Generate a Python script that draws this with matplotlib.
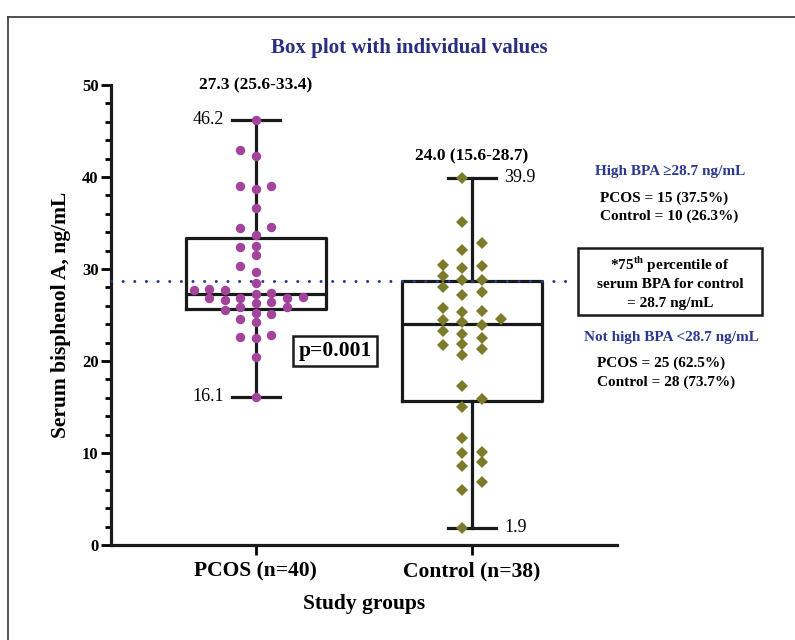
import numpy as np
import matplotlib
matplotlib.use("Agg")
import matplotlib.pyplot as plt
from matplotlib.lines import Line2D

plt.rcParams['font.family'] = ['Liberation Serif', 'DejaVu Serif']
plt.rcParams['mathtext.fontset'] = 'custom'
plt.rcParams['mathtext.rm'] = 'Liberation Serif'
plt.rcParams['mathtext.bf'] = 'Liberation Serif:bold'

# ---------------- data ----------------
groups = ["PCOS (n=40)", "Control (n=38)"]
pcos_values = [46.2, 42.3, 42.9, 38.7, 39.0, 39.0, 36.6, 34.6, 33.7, 34.5,
               32.4, 31.5, 32.5, 29.7, 30.3, 28.5, 27.8, 26.9, 27.0, 25.9,
               27.4, 26.4, 27.7, 26.6, 25.5, 27.3, 26.3, 26.9, 25.9, 27.7,
               26.8, 25.1, 24.2, 24.6, 25.2, 22.6, 22.5, 22.8, 20.4, 16.1]
control_values = [39.9, 35.1, 32.8, 32.1, 30.4, 30.3, 30.1, 29.2, 28.8, 28.8,
                  28.0, 27.2, 27.5, 25.8, 25.3, 25.4, 24.6, 24.5, 23.9, 24.2,
                  23.3, 22.5, 22.9, 21.8, 21.7, 21.3, 20.7, 17.3, 15.9, 15.0,
                  11.6, 10.0, 10.1, 9.0, 8.6, 6.8, 6.0, 1.9]
medians = [27.3, 24.0]
q1s = [25.6, 15.6]
q3s = [33.4, 28.7]
mins = [16.1, 1.9]
maxs = [46.2, 39.9]
cutoff = 28.7
p_text = "p=0.001"
title = "Box plot with individual values"
ylabel = "Serum bisphenol A, ng/mL"
xlabel = "Study groups"

high_title = "High BPA \u226528.7 ng/mL"
high_lines = ["PCOS = 15 (37.5%)", "Control = 10 (26.3%)"]
low_title = "Not high BPA <28.7 ng/mL"
low_lines = ["PCOS = 25 (62.5%)", "Control = 28 (73.7%)"]
note_lines = [r"*75$^{\mathbf{th}}$ percentile of", "serum BPA for control", "= 28.7 ng/mL"]

# ---------------- helpers ----------------
def swarm(values, spacing, cols_pref, min_dy):
    values = np.asarray(values, float)
    order = np.argsort(values, kind="stable")
    placed = {c: [] for c in cols_pref}
    xs = np.zeros(len(values))
    for i in order:
        v = values[i]
        chosen = cols_pref[-1]
        for c in cols_pref:
            if all(abs(v - u) >= min_dy for u in placed[c]):
                chosen = c
                break
        placed[chosen].append(v)
        xs[i] = chosen * spacing
    return xs

purple = "#A2449B"
olive = "#7B7B2B"
navy = "#2A2E7E"
navy2 = "#2B3990"

fig = plt.figure(figsize=(7.95, 6.4), dpi=100)
ax = fig.add_axes([111/795, 1-545/640, (617-111)/795, (545-85)/640])

positions = [1, 2]
stats = []
for m, a, b, lo, hi in zip(medians, q1s, q3s, mins, maxs):
    stats.append(dict(med=m, q1=a, q3=b, whislo=lo, whishi=hi, fliers=[]))

lw = 2.3
ax.bxp(stats, positions=positions, widths=0.65, showfliers=False,
       boxprops=dict(color="#1a1a1a", linewidth=lw),
       medianprops=dict(color="#1a1a1a", linewidth=lw),
       whiskerprops=dict(color="#1a1a1a", linewidth=lw),
       capprops=dict(color="#1a1a1a", linewidth=lw),
       capwidths=0.22, manage_ticks=False, zorder=2)

# dotted cutoff line
ax.axhline(cutoff, xmin=0.0, xmax=0.90, color=navy2, linewidth=2.2,
           linestyle=(0, (0.01, 3.8)), dash_capstyle="round", zorder=3)

# individual points
xp = swarm(pcos_values, 0.072, [0, -1, 1, -2, 2, -3, 3, -4, 4], 1.0)
ax.plot(positions[0] + xp, pcos_values, 'o', color=purple, markersize=6.8,
        markeredgewidth=0, zorder=4, clip_on=False)
xc = swarm(control_values, 0.09, [-0.5, 0.5, -1.5, 1.5, -2.5, 2.5], 1.05)
ax.plot(positions[1] + xc, control_values, 'D', color=olive, markersize=6.4,
        markeredgewidth=0, zorder=4, clip_on=False)

# axes styling
ax.set_xlim(0.33, 2.67)
ax.set_ylim(0, 50)
for s in ["top", "right"]:
    ax.spines[s].set_visible(False)
for s in ["left", "bottom"]:
    ax.spines[s].set_linewidth(2.3)
    ax.spines[s].set_color("#1a1a1a")
ax.set_xticks(positions)
ax.set_xticklabels(groups, fontsize=15.5, fontweight="bold")
ax.set_yticks(np.arange(0, 51, 10))
ax.set_yticks(np.arange(0, 51, 2), minor=True)
ax.tick_params(axis="y", which="major", length=7, width=2, labelsize=12, pad=2)
ax.tick_params(axis="y", which="minor", length=4, width=2)
ax.tick_params(axis="x", which="major", length=7, width=2, pad=5)
for lab in ax.get_yticklabels():
    lab.set_fontweight("bold")
ax.set_ylabel(ylabel, fontsize=15.5, fontweight="bold", labelpad=8)
ax.set_xlabel(xlabel, fontsize=15.5, fontweight="bold", labelpad=9)

# annotations
ax.annotate(f"{medians[0]:.1f} ({q1s[0]:.1f}-{q3s[0]:.1f})", (positions[0], maxs[0]),
            xytext=(0, 25), textcoords="offset points", ha="center", va="center",
            fontsize=12.5, fontweight="bold")
ax.annotate(f"{medians[1]:.1f} ({q1s[1]:.1f}-{q3s[1]:.1f})", (positions[1], maxs[1]),
            xytext=(0, 15.5), textcoords="offset points", ha="center", va="center",
            fontsize=12.5, fontweight="bold")
ax.annotate(f"{maxs[0]:.1f}", (positions[0] - 0.11, maxs[0]), xytext=(-6, 0),
            textcoords="offset points", ha="right", va="center", fontsize=13)
ax.annotate(f"{mins[0]:.1f}", (positions[0] - 0.11, mins[0]), xytext=(-6, 0),
            textcoords="offset points", ha="right", va="center", fontsize=13)
ax.annotate(f"{maxs[1]:.1f}", (positions[1] + 0.11, maxs[1]), xytext=(6, 0),
            textcoords="offset points", ha="left", va="center", fontsize=13)
ax.annotate(f"{mins[1]:.1f}", (positions[1] + 0.11, mins[1]), xytext=(6, 0),
            textcoords="offset points", ha="left", va="center", fontsize=13)

fig.text(335/795, 1-351/640, p_text, ha="center", va="center", fontsize=15.5,
         fontweight="bold",
         bbox=dict(boxstyle="square,pad=0.25", facecolor="white",
                   edgecolor="#1a1a1a", linewidth=1.8))

fig.text(409/795, 1-48/640, title, ha="center", va="center", fontsize=15,
         fontweight="bold", color=navy)

# right side texts
fig.text(670/795, 1-172/640, high_title, ha="center", va="center", fontsize=11,
         fontweight="bold", color=navy2)
fig.text(600/795, 1-198/640, high_lines[0], ha="left", va="center", fontsize=11, fontweight="bold")
fig.text(600/795, 1-216/640, high_lines[1], ha="left", va="center", fontsize=11, fontweight="bold")
fig.text(671/795, 1-337/640, low_title, ha="center", va="center", fontsize=11,
         fontweight="bold", color=navy2)
fig.text(597/795, 1-363/640, low_lines[0], ha="left", va="center", fontsize=11, fontweight="bold")
fig.text(597/795, 1-382/640, low_lines[1], ha="left", va="center", fontsize=11, fontweight="bold")

fig.patches.append(plt.Rectangle((578/795, 1-315/640), (762-578)/795, (315-248)/640,
                                 transform=fig.transFigure, fill=False,
                                 edgecolor="#1a1a1a", linewidth=1.8))
for k, line in enumerate(note_lines):
    fig.text(670/795, 1-(265 + 19*k)/640, line, ha="center", va="center",
             fontsize=11, fontweight="bold")

# outer frame (top and left edges)
fig.add_artist(Line2D([8/795, 1.0], [1-17/640, 1-17/640], transform=fig.transFigure,
                      color="#333333", linewidth=1.2))
fig.add_artist(Line2D([8/795, 8/795], [0.0, 1-17/640], transform=fig.transFigure,
                      color="#333333", linewidth=1.2))

fig.savefig("out.png", dpi=100)
